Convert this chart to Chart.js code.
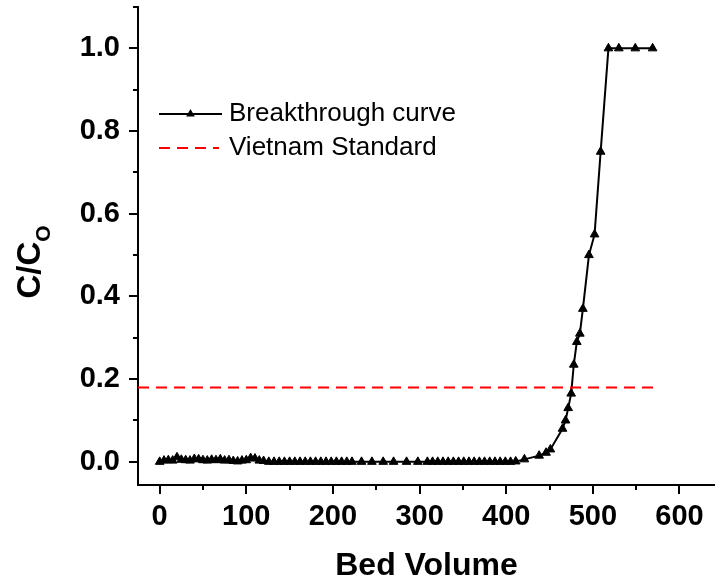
<!DOCTYPE html>
<html>
<head>
<meta charset="utf-8">
<script src="https://cdn.jsdelivr.net/npm/chart.js@4"></script>
<style>
    html, body { margin: 0; padding: 0; background: #fff; }
    canvas { display: block; }
</style>
</head>
<body>
<canvas id="bvChart" width="715" height="584"></canvas>
<script>
// Breakthrough curve - bed volume vs C/Co
const bedVolume = [
    0, 5, 10, 15, 20, 25, 30, 35, 40, 45, 50, 55, 60, 65, 70, 75, 80, 85, 90, 95, 100, 105, 110, 115, 120,
    126, 132, 138, 144, 150, 156, 162, 168, 174, 180, 186, 192, 198, 204, 210, 216, 222,
    233, 245, 258, 270, 285, 298,
    309, 315, 321, 327, 333, 339, 345, 351, 357, 363, 369, 375, 381, 387, 393, 399, 405, 411,
    421, 438, 446, 451, 465, 468.5, 471.5, 475, 478, 481.5, 485, 488.5, 495.5, 502, 509, 518, 530, 549, 569
];
const ratioCC0 = [
    0, 0.003, 0.004, 0.003, 0.011, 0.005, 0.004, 0.003, 0.007, 0.006, 0.004, 0.003, 0.005, 0.004, 0.006, 0.003, 0.004, 0.002, 0.001, 0.003, 0.004, 0.009, 0.008, 0.003, 0.002,
    0, 0, 0, 0, 0, 0, 0, 0, 0, 0, 0, 0, 0, 0, 0, 0, 0,
    0, 0, 0, 0, 0, 0,
    0, 0, 0, 0, 0, 0, 0, 0, 0, 0, 0, 0, 0, 0, 0, 0, 0, 0.001,
    0.006, 0.015, 0.022, 0.03, 0.08, 0.10, 0.13, 0.165, 0.235, 0.29, 0.31, 0.37, 0.50, 0.55, 0.75, 1.0, 1.0, 1.0, 1.0
];

// Vietnam Standard limit line
const standardX = [-25, 572];
const standardY = [0.18, 0.18];

// Axis ticks (null label = minor tick)
const xTicks = [0, 50, 100, 150, 200, 250, 300, 350, 400, 450, 500, 550, 600];
const xTickLabels = ['0', null, '100', null, '200', null, '300', null, '400', null, '500', null, '600'];
const yTicks = [0, 0.1, 0.2, 0.3, 0.4, 0.5, 0.6, 0.7, 0.8, 0.9, 1.0, 1.1];
const yTickLabels = ['0.0', null, '0.2', null, '0.4', null, '0.6', null, '0.8', null, '1.0', null];

const FONT = "'Liberation Sans', Arial, sans-serif";

// Draw tick marks, y title with subscript and the legend
const extrasPlugin = {
    id: 'extras',
    afterDraw(chart) {
        const ctx = chart.ctx;
        const xs = chart.scales.x;
        const ys = chart.scales.y;
        const area = chart.chartArea;

        ctx.save();
        ctx.strokeStyle = '#000';
        ctx.lineWidth = 2;
        ctx.beginPath();
        xTicks.forEach((v, i) => {
            const px = Math.round(xs.getPixelForValue(v));
            const len = xTickLabels[i] ? 9 : 5;
            ctx.moveTo(px, area.bottom);
            ctx.lineTo(px, area.bottom + len);
        });
        yTicks.forEach((v, i) => {
            const py = Math.round(ys.getPixelForValue(v));
            const len = yTickLabels[i] ? 9 : 5;
            ctx.moveTo(area.left, py);
            ctx.lineTo(area.left - len, py);
        });
        ctx.stroke();

        // y axis title C/Co
        ctx.fillStyle = '#000';
        ctx.translate(40, 262);
        ctx.rotate(-Math.PI / 2);
        ctx.textBaseline = 'alphabetic';
        ctx.textAlign = 'left';
        ctx.font = 'bold 33px ' + FONT;
        const w1 = ctx.measureText('C/C').width;
        ctx.font = 'bold 21px ' + FONT;
        const w2 = ctx.measureText('O').width;
        const start = -(w1 + w2) / 2;
        ctx.font = 'bold 33px ' + FONT;
        ctx.fillText('C/C', start, 0);
        ctx.font = 'bold 21px ' + FONT;
        ctx.fillText('O', start + w1, 10);
        ctx.restore();

        // legend
        ctx.save();
        const rows = [
            { ds: chart.data.datasets[0], y: 114, x1: 159, x2: 222 },
            { ds: chart.data.datasets[1], y: 148, x1: 159, x2: 219 }
        ];
        rows.forEach(r => {
            ctx.strokeStyle = r.ds.borderColor;
            ctx.lineWidth = r.ds.borderWidth;
            ctx.setLineDash(r.ds.borderDash || []);
            ctx.beginPath();
            ctx.moveTo(r.x1, r.y);
            ctx.lineTo(r.x2, r.y);
            ctx.stroke();
            ctx.setLineDash([]);
            if (r.ds.pointRadius > 0) {
                const cx = (r.x1 + r.x2) / 2;
                const rad = r.ds.pointRadius;
                ctx.fillStyle = r.ds.pointBackgroundColor;
                ctx.beginPath();
                ctx.moveTo(cx, r.y - rad);
                ctx.lineTo(cx + rad * 0.866, r.y + rad * 0.5);
                ctx.lineTo(cx - rad * 0.866, r.y + rad * 0.5);
                ctx.closePath();
                ctx.fill();
            }
            ctx.fillStyle = '#000';
            ctx.font = '26px ' + FONT;
            ctx.textBaseline = 'middle';
            ctx.textAlign = 'left';
            ctx.fillText(r.ds.label, 229, r.y);
        });
        ctx.restore();
    }
};

function initChart() {
    Chart.defaults.color = '#000';
    const ctx = document.getElementById('bvChart').getContext('2d');
    new Chart(ctx, {
        type: 'line',
        data: {
            datasets: [{
                label: 'Breakthrough curve',
                data: bedVolume.map((v, i) => ({ x: v, y: ratioCC0[i] })),
                borderColor: '#000',
                borderWidth: 2,
                pointStyle: 'triangle',
                pointRadius: 5,
                pointBackgroundColor: '#000',
                pointBorderColor: '#000',
                pointBorderWidth: 1,
                tension: 0,
                order: 1
            }, {
                label: 'Vietnam Standard',
                data: standardX.map((v, i) => ({ x: v, y: standardY[i] })),
                borderColor: '#ff0000',
                borderWidth: 2,
                borderDash: [11, 7],
                pointRadius: 0,
                tension: 0,
                order: 0
            }]
        },
        options: {
            responsive: false,
            animation: false,
            layout: { autoPadding: false, padding: { top: 7, right: 0, bottom: 0, left: 0 } },
            plugins: {
                legend: { display: false },
                tooltip: { enabled: false }
            },
            scales: {
                x: {
                    type: 'linear',
                    min: -25,
                    max: 641,
                    afterBuildTicks: s => { s.ticks = xTicks.map(v => ({ value: v })); },
                    afterFit: s => { s.height = 99; s.paddingRight = 0; },
                    grid: { display: true, drawOnChartArea: false, drawTicks: true, tickLength: 9, color: 'rgba(0,0,0,0)' },
                    border: { display: true, color: '#000', width: 2 },
                    ticks: {
                        autoSkip: false,
                        maxRotation: 0,
                        padding: 6,
                        font: { family: FONT, size: 29, weight: 'bold' },
                        callback: (value, index) => xTickLabels[index]
                    },
                    title: {
                        display: true,
                        text: 'Bed Volume',
                        font: { family: FONT, size: 32, weight: 'bold', lineHeight: 1.1 },
                        padding: { top: 0, bottom: 0 }
                    }
                },
                y: {
                    type: 'linear',
                    min: -0.056,
                    max: 1.1,
                    afterBuildTicks: s => { s.ticks = yTicks.map(v => ({ value: v })); },
                    afterFit: s => { s.width = 138; s.paddingTop = 0; },
                    grid: { display: true, drawOnChartArea: false, drawTicks: true, tickLength: 9, color: 'rgba(0,0,0,0)' },
                    border: { display: true, color: '#000', width: 2 },
                    ticks: {
                        autoSkip: false,
                        padding: 9,
                        font: { family: FONT, size: 29, weight: 'bold' },
                        callback: (value, index) => yTickLabels[index]
                    }
                }
            }
        },
        plugins: [extrasPlugin]
    });
}

document.addEventListener('DOMContentLoaded', initChart);
</script>
</body>
</html>
